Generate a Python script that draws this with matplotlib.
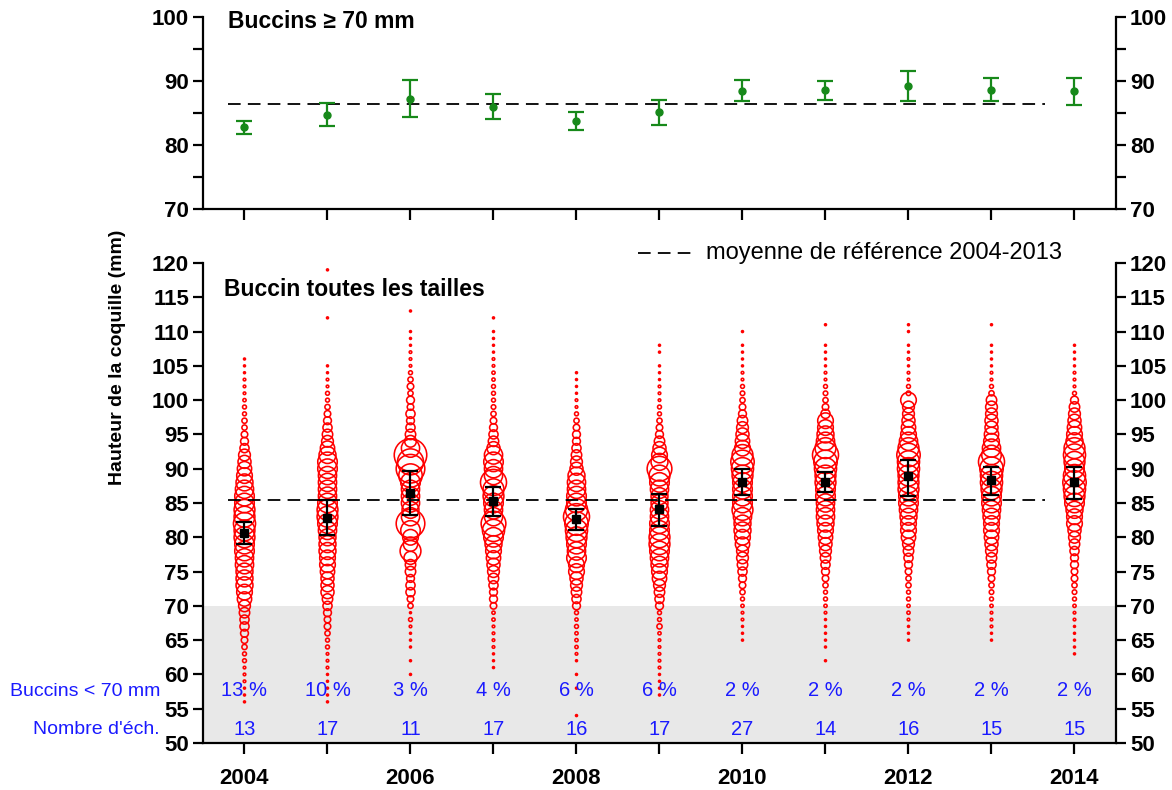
import numpy as np
import matplotlib
matplotlib.use("Agg")
import matplotlib.pyplot as plt
from matplotlib.lines import Line2D

plt.rcParams['font.family'] = ['Liberation Sans', 'DejaVu Sans']

# ---------------- data ----------------
annees = [2004, 2005, 2006, 2007, 2008, 2009, 2010, 2011, 2012, 2013, 2014]
etiquettes_x = ['2004', '', '2006', '', '2008', '', '2010', '', '2012', '', '2014']

# Buccins >= 70 mm : moyenne et intervalle (mm)
moy_70 = [82.8, 84.7, 87.2, 86.0, 83.8, 85.1, 88.5, 88.6, 89.2, 88.6, 88.4]
bas_70 = [81.7, 82.9, 84.3, 84.1, 82.4, 83.1, 86.8, 87.0, 86.8, 86.8, 86.2]
haut_70 = [83.8, 86.5, 90.1, 88.0, 85.2, 87.0, 90.2, 90.0, 91.6, 90.4, 90.5]
ref_70 = 86.35

# Toutes tailles : moyenne et intervalle (mm)
moy_tout = [80.6, 82.8, 86.5, 85.3, 82.6, 84.1, 88.1, 88.0, 88.9, 88.3, 88.0]
bas_tout = [79.0, 80.3, 83.3, 83.1, 81.1, 81.7, 86.1, 86.6, 86.0, 86.1, 85.6]
haut_tout = [82.2, 85.4, 89.7, 87.4, 84.1, 86.3, 89.9, 89.5, 91.3, 90.2, 90.3]
ref_tout = 85.5

pct_moins_70 = ['13 %', '10 %', '3 %', '4 %', '6 %', '6 %', '2 %', '2 %', '2 %', '2 %', '2 %']
nb_ech = ['13', '17', '11', '17', '16', '17', '27', '14', '16', '15', '15']

# frequences relatives par classe de 1 mm (de taille_min vers le haut)
taille_min = [56, 56, 60, 61, 54, 57, 65, 62, 65, 65, 63]
freq_2004 = [1.5, 1.5, 1.5, 2, 2, 2, 3, 3, 4, 5, 6, 7, 7, 8, 9, 11, 12, 13, 13, 13,
             14, 14, 15, 15, 16, 16, 17, 16, 16, 15, 15, 14, 13, 12, 11, 10, 9, 7, 6, 5,
             4, 4, 3, 3, 2.5, 2, 2, 2, 1.5, 1.5, 1.5]
freq_2005 = [1.5, 1.5, 1.5, 1.5, 1.5, 2, 2, 2, 3, 3, 4, 5, 5, 6, 7, 8, 10, 10, 10, 11,
             12, 12, 13, 13, 13, 14, 15, 16, 16, 15, 14, 14, 14, 14, 15, 15, 13, 11, 9, 8,
             7, 6, 5, 4, 3, 3, 2, 2, 1.5, 1.5, 0, 0, 0, 0, 0, 0, 1.5, 0, 0, 0,
             0, 0, 0, 1.5]
freq_2006 = [1.5, 0, 1.5, 0, 1.5, 1.5, 1.5, 2, 3, 1.5, 4, 5, 7, 7, 6, 8, 8, 10, 16, 11,
             12, 15, 22, 14, 13, 14, 14, 14, 15, 18, 22, 20, 25, 14, 9, 8, 7, 6, 7, 5,
             6, 4, 5, 4, 3, 2, 2, 2, 1.5, 1.5, 1.5, 0, 0, 1.5]
freq_2007 = [1.5, 1.5, 1.5, 2, 2, 2, 2, 2.5, 2.5, 5, 6, 6, 7, 8, 9, 10, 11, 12, 13, 15,
             17, 19, 14, 14, 15, 16, 16, 20, 14, 14, 15, 14, 10, 8, 7, 6, 5, 4, 3.5, 3,
             3, 3, 2.5, 2.5, 2, 2, 1.5, 1.5, 1.5, 1.5, 0, 1.5]
freq_2008 = [1.5, 0, 0, 0, 1.5, 0, 1.5, 0, 1.5, 2, 2.5, 2.5, 2.5, 3, 2.5, 3, 6, 7, 8, 9,
             10, 12, 12, 15, 14, 15, 16, 17, 18, 20, 17, 15, 15, 14, 14, 13, 10, 9, 8, 7,
             6, 6, 5, 4, 3, 2, 2, 1.5, 1.5, 1.5, 1.5]
freq_2009 = [1.5, 1.5, 1.5, 1.5, 2, 2, 2, 2, 2, 2.5, 4, 3, 3, 6, 7, 8, 9, 11, 12, 13,
             14, 15, 16, 16, 15, 15, 14, 14, 13, 13, 14, 15, 16, 19, 13, 12, 10, 8, 6, 5,
             4, 3, 3, 2, 2, 2, 1.5, 1.5, 1.5, 0, 1.5, 1.5]
freq_2010 = [1.5, 1.5, 1.5, 2, 2, 2.5, 3, 4, 5, 6, 7, 8, 9, 9, 11, 12, 13, 13, 14, 16,
             15, 15, 15, 15, 16, 17, 18, 16, 12, 11, 10, 9, 8, 6, 5, 4, 3.5, 3, 2, 2,
             1.5, 1.5, 1.5, 1.5, 0, 1.5]
freq_2011 = [1.5, 0, 1.5, 1.5, 1.5, 1.5, 1.5, 2, 2.5, 3, 3, 4, 5, 6, 7, 8, 9, 10, 11, 12,
             13, 14, 14, 14, 15, 15, 16, 16, 17, 18, 20, 16, 14, 13, 12, 12, 7, 5, 4, 3.5,
             3, 2, 2, 1.5, 1.5, 1.5, 1.5, 0, 0, 1.5]
freq_2012 = [1.5, 1.5, 1.5, 2, 2.5, 2.5, 3, 3, 4, 4, 5, 6, 7, 8, 9, 11, 12, 12, 13, 14,
             15, 15, 16, 16, 16, 17, 17, 18, 16, 14, 12, 11, 10, 9, 9, 12, 3.5, 3, 2, 2,
             1.5, 2, 1.5, 1.5, 0, 1.5, 1.5]
freq_2013 = [1.5, 1.5, 2, 2, 2, 2.5, 3, 3.5, 4, 5, 6, 7, 8, 9, 10, 11, 12, 12, 13, 14,
             15, 15, 16, 17, 17, 18, 20, 15, 14, 12, 11, 10, 10, 9, 9, 8, 4, 3, 2, 2,
             1.5, 1.5, 1.5, 1.5, 0, 0, 1.5]
freq_2014 = [1.5, 1.5, 1.5, 1.5, 1.5, 2, 2, 2.5, 3, 3.5, 4, 5, 5, 6, 6, 7, 8, 9, 10, 12,
             12, 13, 15, 16, 17, 18, 17, 15, 16, 17, 16, 13, 12, 11, 10, 9, 8, 6, 3, 2,
             2, 2, 1.5, 1.5, 1.5, 1.5]
freqs = [freq_2004, freq_2005, freq_2006, freq_2007, freq_2008, freq_2009,
         freq_2010, freq_2011, freq_2012, freq_2013, freq_2014]

# ---------------- figure ----------------
W, H = 1172, 790
fig = plt.figure(figsize=(W / 100, H / 100), dpi=100)
L, R = 203 / W, 1116 / W
ax1 = fig.add_axes([L, 1 - 209 / H, R - L, (209 - 17) / H])
ax2 = fig.add_axes([L, 1 - 743 / H, R - L, (743 - 263) / H])

green = '#17891a'
tick_fs = 16
dash = (7, 4)

for ax in (ax1, ax2):
    ax.set_xlim(2003.5, 2014.5)
    ax.spines['top'].set_visible(False)
    for s in ('left', 'right', 'bottom'):
        ax.spines[s].set_linewidth(1.6)
    ax.tick_params(axis='both', which='both', direction='out', length=7, width=1.6,
                   labelsize=tick_fs, right=True, labelright=True)
    ax.set_xticks(annees)
    ax.tick_params(axis='y', pad=3)

# ---- top panel ----
ax1.set_ylim(70, 100)
ax1.set_yticks([70, 80, 90, 100])
ax1.set_yticks([75, 85, 95], minor=True)
ax1.set_xticklabels([''] * len(annees))
ax1.tick_params(axis='x', length=8)
for lab in ax1.get_yticklabels():
    lab.set_fontweight('bold')
err_lo = np.array(moy_70) - np.array(bas_70)
err_hi = np.array(haut_70) - np.array(moy_70)
ax1.errorbar(annees, moy_70, yerr=[err_lo, err_hi], fmt='o', color=green, ms=5,
             elinewidth=1.6, capsize=5.5, capthick=1.6, zorder=3)
ax1.plot([2003.8, 2013.65], [ref_70, ref_70], color='black', lw=1.3,
         dashes=dash, zorder=2)
fig.text(228 / W, 1 - 22 / H, 'Buccins \u2265 70 mm', fontsize=16.5,
         fontweight='bold', va='center', ha='left')

# ---- bottom panel ----
ax2.set_ylim(50, 120)
ax2.set_yticks(np.arange(50, 121, 5))
ax2.set_xticklabels(etiquettes_x, fontweight='bold')
ax2.tick_params(axis='x', length=8, pad=10)
for lab in ax2.get_yticklabels():
    lab.set_fontweight('bold')
ax2.axhspan(50, 70, color='#e8e8e8', zorder=0, lw=0)

px2pt = 0.72 * 1.3
for an, tmin, fr in zip(annees, taille_min, freqs):
    fr = np.array(fr, dtype=float)
    tailles = tmin + np.arange(len(fr))
    m = fr > 0
    ax2.scatter(np.full(m.sum(), an), tailles[m], s=(fr[m] * px2pt) ** 2,
                facecolors='none', edgecolors='#ff0000', linewidths=1.15, zorder=2)

e_lo = np.array(moy_tout) - np.array(bas_tout)
e_hi = np.array(haut_tout) - np.array(moy_tout)
ax2.errorbar(annees, moy_tout, yerr=[e_lo, e_hi], fmt='s', color='black', ms=5.5,
             elinewidth=1.6, capsize=5.5, capthick=1.6, zorder=4)
ax2.plot([2003.8, 2013.65], [ref_tout, ref_tout], color='black', lw=1.3,
         dashes=dash, zorder=3)

blue = '#1a1aff'
for an, p, n in zip(annees, pct_moins_70, nb_ech):
    ax2.text(an, 57.6, p, color=blue, fontsize=14.5, ha='center', va='center', zorder=5)
    ax2.text(an, 52.0, n, color=blue, fontsize=14.5, ha='center', va='center', zorder=5)

fig.text(160 / W, 1 - 692 / H, 'Buccins < 70 mm', color=blue, fontsize=14,
         ha='right', va='center')
fig.text(160 / W, 1 - 730 / H, "Nombre d'\u00e9ch.", color=blue, fontsize=14,
         ha='right', va='center')

fig.text(224 / W, 1 - 290 / H, 'Buccin toutes les tailles', fontsize=16.5,
         fontweight='bold', va='center', ha='left')

# legend
fig.add_artist(Line2D([638 / W, 695 / W], [1 - 253 / H] * 2, color='black', lw=1.3,
                      dashes=dash))
fig.text(706 / W, 1 - 253 / H, 'moyenne de r\u00e9f\u00e9rence 2004-2013', fontsize=17,
         va='center', ha='left')

fig.text(118 / W, 1 - 357 / H, 'Hauteur de la coquille (mm)', fontsize=14,
         fontweight='bold', rotation=90, va='center', ha='center')

fig.savefig('out.png', dpi=100)
